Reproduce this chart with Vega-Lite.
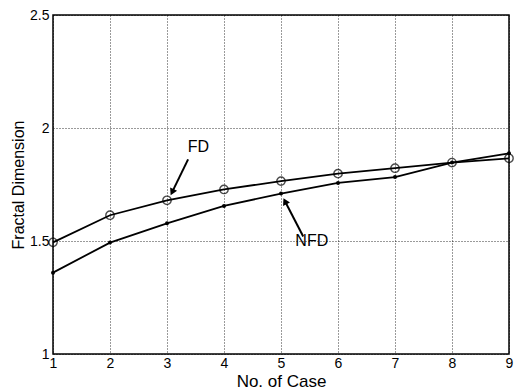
{
  "$schema": "https://vega.github.io/schema/vega-lite/v6.json",
  "width": 456,
  "height": 339,
  "autosize": "none",
  "padding": {"left": 53, "top": 15, "right": 12, "bottom": 37},
  "background": "white",
  "config": {
    "view": {"stroke": "black", "strokeWidth": 1.5},
    "font": "Liberation Sans",
    "axis": {
      "labelFont": "Liberation Sans",
      "titleFont": "Liberation Sans",
      "labelFontSize": 14,
      "titleFontSize": 16,
      "titleFontWeight": "normal",
      "labelColor": "black",
      "titleColor": "black",
      "labelFlush": false,
      "labelOverlap": false,
      "domain": false,
      "grid": true,
      "gridColor": "black",
      "gridDash": [1, 2],
      "gridOpacity": 1,
      "gridWidth": 0.8,
      "ticks": false
    }
  },
  "datasets": {
    "series": [
      {"case": 1, "value": 1.494, "series": "FD"},
      {"case": 2, "value": 1.614, "series": "FD"},
      {"case": 3, "value": 1.68, "series": "FD"},
      {"case": 4, "value": 1.728, "series": "FD"},
      {"case": 5, "value": 1.765, "series": "FD"},
      {"case": 6, "value": 1.798, "series": "FD"},
      {"case": 7, "value": 1.822, "series": "FD"},
      {"case": 8, "value": 1.847, "series": "FD"},
      {"case": 9, "value": 1.866, "series": "FD"},
      {"case": 1, "value": 1.36, "series": "NFD"},
      {"case": 2, "value": 1.493, "series": "NFD"},
      {"case": 3, "value": 1.578, "series": "NFD"},
      {"case": 4, "value": 1.655, "series": "NFD"},
      {"case": 5, "value": 1.71, "series": "NFD"},
      {"case": 6, "value": 1.757, "series": "NFD"},
      {"case": 7, "value": 1.783, "series": "NFD"},
      {"case": 8, "value": 1.847, "series": "NFD"},
      {"case": 9, "value": 1.888, "series": "NFD"}
    ],
    "arrows": [
      {"label": "FD", "x1": 3.37, "y1": 1.861, "x2": 3.09, "y2": 1.716, "angle": 206, "tx": 3.55, "ty": 1.915},
      {"label": "NFD", "x1": 5.39, "y1": 1.52, "x2": 5.07, "y2": 1.676, "angle": 333, "tx": 5.54, "ty": 1.5}
    ]
  },
  "layer": [
    {
      "data": {"name": "series"},
      "mark": {"type": "line", "color": "black", "strokeWidth": 1.8},
      "encoding": {
        "x": {"field": "case", "type": "quantitative", "scale": {"domain": [1, 9], "nice": false, "zero": false},
              "axis": {"values": [1,2,3,4,5,6,7,8,9], "format": "d", "title": "No. of  Case", "titleFontSize": 17, "titlePadding": 3, "labelPadding": 2}},
        "y": {"field": "value", "type": "quantitative", "scale": {"domain": [1, 2.5], "nice": false, "zero": false},
              "axis": {"values": [1, 1.5, 2, 2.5], "format": "~g", "title": "Fractal Dimension", "titlePadding": 3, "labelPadding": 4}},
        "detail": {"field": "series"}
      }
    },
    {
      "data": {"name": "series"},
      "transform": [{"filter": "datum.series === 'FD'"}],
      "mark": {"type": "point", "shape": "circle", "filled": false, "color": "black", "size": 70, "strokeWidth": 1.4},
      "encoding": {
        "x": {"field": "case", "type": "quantitative"},
        "y": {"field": "value", "type": "quantitative"}
      }
    },
    {
      "data": {"name": "series"},
      "transform": [{"filter": "datum.series === 'NFD'"}],
      "mark": {"type": "point", "shape": "circle", "filled": true, "opacity": 1, "color": "black", "size": 16},
      "encoding": {
        "x": {"field": "case", "type": "quantitative"},
        "y": {"field": "value", "type": "quantitative"}
      }
    },
    {
      "data": {"name": "arrows"},
      "mark": {"type": "rule", "color": "black", "strokeWidth": 2},
      "encoding": {
        "x": {"field": "x1", "type": "quantitative"},
        "y": {"field": "y1", "type": "quantitative"},
        "x2": {"field": "x2"},
        "y2": {"field": "y2"}
      }
    },
    {
      "data": {"name": "arrows"},
      "mark": {"type": "point", "shape": "triangle-up", "filled": true, "opacity": 1, "color": "black", "size": 60},
      "encoding": {
        "x": {"field": "x2", "type": "quantitative"},
        "y": {"field": "y2", "type": "quantitative"},
        "angle": {"field": "angle", "type": "quantitative", "scale": null}
      }
    },
    {
      "data": {"name": "arrows"},
      "mark": {"type": "text", "color": "black", "fontSize": 16, "font": "Liberation Sans"},
      "encoding": {
        "x": {"field": "tx", "type": "quantitative"},
        "y": {"field": "ty", "type": "quantitative"},
        "text": {"field": "label"}
      }
    }
  ]
}
